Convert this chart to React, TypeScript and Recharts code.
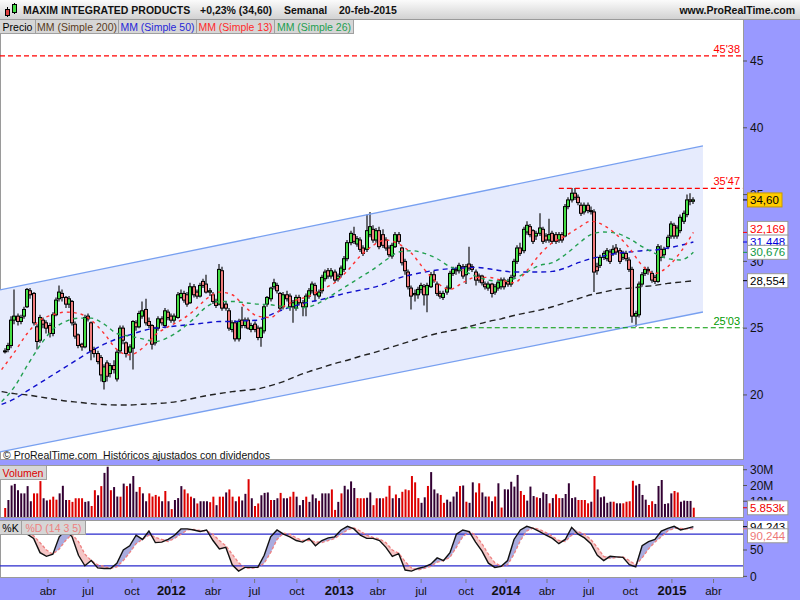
import {
  Area,
  Bar,
  Cell,
  ComposedChart,
  Line,
  ReferenceLine,
  XAxis,
  YAxis,
} from "recharts";

const FONT = "'Liberation Sans', Arial, sans-serif";
const PURPLE = "#9999ff";

// weekly candles, first week of jan-2011 up to 20-feb-2015 (216 weeks)
const opens = [
  23.3, 23.4, 23.7, 25.6, 25.9, 25.5, 25.9, 26.6, 27.8, 27.6,
  25.1, 24.1, 25.6, 25.4, 25.2, 24.6, 26.0, 27.2, 27.6, 27.3,
  26.8, 27.0, 25.3, 24.5, 23.8, 23.6, 25.9, 25.4, 23.4, 23.1,
  22.8, 21.0, 22.4, 21.6, 22.2, 21.2, 23.3, 25.0, 23.9, 23.2,
  23.5, 25.4, 25.1, 25.9, 26.4, 25.5, 25.2, 23.9, 25.0, 25.7,
  25.2, 26.2, 25.9, 25.6, 25.8, 27.3, 27.6, 27.5, 26.9, 28.1,
  27.7, 27.4, 28.5, 28.3, 27.7, 27.5, 27.0, 26.8, 29.3, 26.8,
  26.3, 24.9, 25.4, 24.2, 25.6, 25.2, 25.6, 24.9, 25.3, 25.0,
  24.3, 24.8, 26.8, 27.2, 28.1, 28.2, 27.6, 26.6, 27.5, 27.4,
  26.6, 26.5, 27.3, 26.9, 26.6, 27.4, 27.8, 28.2, 27.4, 27.8,
  28.7, 29.3, 28.9, 29.2, 28.7, 29.0, 29.4, 30.2, 31.4, 32.0,
  31.3, 31.6, 31.0, 30.9, 32.0, 32.4, 31.6, 32.3, 32.0, 31.6,
  31.0, 30.4, 31.1, 32.0, 31.0, 30.0, 29.2, 28.0, 27.5, 27.5,
  27.9, 28.1, 27.5, 28.1, 29.0, 28.3, 27.6, 27.3, 27.7, 28.0,
  29.1, 29.4, 29.3, 29.6, 29.0, 29.8, 29.6, 29.2, 28.9, 28.9,
  28.3, 28.0, 28.3, 27.7, 28.0, 28.1, 28.6, 28.5, 28.3, 28.9,
  30.0, 31.0, 30.8, 32.2, 32.6, 32.3, 31.9, 32.1, 32.4, 31.9,
  31.6, 32.1, 32.0, 31.6, 32.0, 31.9, 34.1, 34.6, 35.1, 34.8,
  34.2, 33.7, 34.2, 33.8, 33.7, 29.6, 29.7, 30.3, 30.2, 30.7,
  30.6, 31.0, 30.8, 30.3, 30.6, 30.1, 29.4, 25.9, 26.0, 28.3,
  29.1, 29.4, 29.1, 28.8, 28.5, 30.9, 30.5, 31.1, 31.9, 32.7,
  31.9, 32.3, 33.0, 33.5, 34.6, 34.5,
];
const highs = [
  23.5, 23.9, 25.9, 27.9, 26.1, 26.0, 26.6, 28.0, 28.0, 27.7,
  25.3, 26.0, 25.8, 25.6, 25.4, 26.2, 27.3, 28.2, 27.9, 27.4,
  27.4, 27.1, 25.5, 24.6, 23.9, 26.0, 26.1, 25.5, 23.6, 23.3,
  23.0, 22.3, 22.6, 22.4, 22.6, 23.4, 25.2, 25.2, 24.0, 23.8,
  25.6, 25.6, 26.3, 27.0, 27.2, 25.8, 25.3, 25.1, 25.9, 25.9,
  26.5, 26.4, 26.1, 26.1, 27.7, 27.9, 27.8, 27.7, 28.4, 28.3,
  27.9, 28.4, 28.7, 29.0, 28.0, 27.7, 27.2, 29.8, 29.6, 27.0,
  26.5, 25.6, 25.6, 25.7, 26.6, 25.8, 25.8, 25.4, 25.5, 25.2,
  25.1, 26.8, 27.4, 28.1, 28.7, 28.4, 27.7, 27.7, 27.8, 27.6,
  27.1, 27.5, 27.5, 27.1, 27.6, 28.0, 28.5, 28.4, 27.9, 29.0,
  29.4, 29.5, 29.5, 29.4, 29.1, 29.7, 30.4, 31.6, 32.3, 32.6,
  31.9, 31.8, 31.2, 33.5, 33.7, 32.7, 32.5, 32.6, 32.4, 31.8,
  31.2, 31.4, 32.2, 32.2, 31.1, 30.2, 29.4, 28.2, 27.9, 28.1,
  28.4, 28.3, 28.4, 29.2, 29.3, 28.5, 27.8, 27.8, 28.2, 29.3,
  29.6, 29.6, 29.9, 29.8, 29.8, 31.1, 29.8, 29.4, 29.1, 29.0,
  28.5, 28.5, 28.4, 28.3, 28.6, 28.8, 28.8, 28.7, 29.0, 30.2,
  31.2, 31.4, 32.6, 33.0, 32.8, 32.4, 32.3, 33.6, 32.6, 32.1,
  33.2, 32.3, 32.2, 32.2, 32.2, 34.3, 34.8, 35.5, 35.5, 35.0,
  34.4, 34.4, 34.4, 34.1, 33.9, 29.9, 30.5, 30.8, 31.0, 30.9,
  31.2, 31.3, 31.0, 30.8, 30.8, 30.3, 29.6, 26.3, 28.5, 29.2,
  29.6, 29.6, 29.3, 29.0, 31.3, 31.2, 31.1, 32.0, 33.0, 32.9,
  32.7, 33.5, 33.8, 35.0, 35.1, 34.8,
];
const lows = [
  23.1, 23.2, 23.5, 25.3, 25.2, 25.3, 25.7, 26.5, 27.2, 25.2,
  23.4, 23.9, 25.0, 24.6, 24.3, 24.4, 25.9, 27.0, 27.0, 26.5,
  26.5, 25.2, 24.2, 23.5, 23.3, 23.5, 25.5, 22.6, 22.8, 22.3,
  21.0, 20.4, 21.0, 21.3, 21.6, 21.0, 23.1, 23.8, 22.8, 22.6,
  21.9, 24.8, 25.0, 25.7, 25.2, 25.0, 23.4, 23.7, 24.8, 25.2,
  25.0, 25.6, 25.4, 25.4, 25.7, 27.2, 26.9, 26.6, 26.8, 27.3,
  27.2, 27.3, 28.0, 27.6, 27.4, 26.8, 26.5, 26.7, 26.3, 26.3,
  24.8, 24.7, 24.0, 24.0, 25.0, 25.0, 24.9, 24.7, 24.7, 24.1,
  23.6, 24.6, 26.6, 27.0, 27.9, 27.6, 26.3, 26.4, 27.0, 26.3,
  25.4, 26.3, 26.7, 25.9, 25.9, 27.2, 27.6, 27.0, 27.2, 27.6,
  28.5, 28.7, 28.7, 28.4, 28.5, 28.8, 29.2, 30.0, 31.2, 31.3,
  31.1, 30.7, 30.4, 30.7, 31.8, 31.4, 31.4, 30.9, 31.0, 30.8,
  30.3, 30.2, 31.0, 31.3, 29.7, 29.0, 27.9, 26.4, 27.0, 27.2,
  27.6, 26.7, 26.2, 28.0, 28.4, 27.4, 27.2, 27.1, 27.5, 27.9,
  28.9, 29.0, 29.1, 28.7, 28.3, 29.3, 29.2, 28.2, 28.4, 28.2,
  27.9, 27.8, 27.3, 27.5, 27.8, 27.9, 27.9, 28.1, 28.1, 28.7,
  29.8, 30.4, 30.6, 32.0, 31.8, 31.3, 31.6, 31.9, 31.3, 31.4,
  31.4, 31.3, 31.3, 31.4, 31.4, 31.8, 33.9, 34.4, 34.6, 34.2,
  33.4, 33.5, 33.6, 33.5, 27.7, 29.0, 29.5, 30.1, 30.0, 29.8,
  30.4, 30.5, 29.8, 30.1, 30.0, 29.2, 25.4, 25.1, 25.8, 28.1,
  28.9, 29.0, 28.4, 28.3, 28.4, 30.0, 30.3, 30.9, 31.7, 31.7,
  31.7, 32.1, 32.8, 33.3, 34.2, 34.3,
];
const closes = [
  23.3, 23.7, 25.6, 25.9, 25.5, 25.8, 26.4, 27.9, 27.5, 25.4,
  24.0, 25.8, 25.3, 25.0, 24.6, 26.0, 27.1, 27.7, 27.3, 26.8,
  27.2, 25.4, 24.4, 23.7, 23.6, 25.8, 25.7, 23.3, 23.1, 22.5,
  21.5, 22.1, 21.4, 22.2, 21.9, 23.2, 25.0, 24.1, 23.1, 23.6,
  25.5, 25.1, 26.1, 26.3, 25.4, 25.2, 23.8, 25.0, 25.7, 25.4,
  26.3, 25.8, 25.6, 25.9, 27.5, 27.6, 27.1, 26.8, 28.1, 27.5,
  27.4, 28.2, 28.2, 27.7, 27.8, 27.0, 26.7, 29.4, 26.5, 26.5,
  25.0, 25.4, 24.2, 25.5, 25.2, 25.6, 25.0, 25.2, 24.9, 24.3,
  25.0, 26.6, 27.3, 28.0, 28.4, 27.8, 26.5, 27.5, 27.2, 26.6,
  26.9, 27.3, 26.9, 26.6, 27.4, 27.8, 28.3, 27.5, 27.7, 28.8,
  29.2, 28.9, 29.3, 28.6, 28.9, 29.5, 30.2, 31.4, 32.1, 31.5,
  31.7, 30.9, 30.6, 32.3, 32.6, 31.6, 32.3, 31.1, 31.2, 31.0,
  30.5, 31.2, 32.0, 31.5, 29.9, 29.3, 28.1, 27.4, 27.6, 27.9,
  28.2, 27.5, 28.2, 29.0, 28.6, 27.6, 27.4, 27.6, 28.0, 29.1,
  29.4, 29.3, 29.7, 28.9, 29.6, 29.5, 29.4, 28.6, 28.6, 28.4,
  28.1, 28.3, 27.6, 28.1, 28.4, 28.6, 28.1, 28.3, 28.8, 30.0,
  31.0, 30.6, 32.4, 32.7, 32.0, 31.5, 32.1, 32.5, 31.5, 31.6,
  32.0, 31.5, 31.5, 32.0, 31.6, 34.1, 34.6, 35.1, 34.8, 34.4,
  33.6, 34.2, 33.8, 33.8, 29.2, 29.3, 30.3, 30.6, 30.8, 30.0,
  30.9, 30.7, 30.0, 30.6, 30.2, 29.4, 25.9, 26.1, 28.3, 29.0,
  29.4, 29.3, 28.6, 28.5, 31.1, 30.3, 30.9, 31.8, 32.8, 31.9,
  32.5, 33.3, 33.6, 34.6, 34.5, 34.6,
];

// weekly volume in millions, colour per bar: r = red, d = dark
const volumes = [
  5.7, 10.8, 20, 21, 17, 15, 15, 19.6, 10, 15,
  15, 22.8, 11.9, 10.5, 11, 12.9, 11, 15, 19.8, 10.8,
  10.8, 9.6, 11.9, 11.9, 11.9, 9.6, 10, 7, 17, 13.8,
  19.6, 28, 31.9, 17, 19, 13, 12.9, 21.2, 19.6, 21.2,
  26, 16, 19, 15, 10, 15, 13, 14, 13, 10,
  16.5, 10, 5, 10.8, 12, 19.6, 17.5, 15, 12.9, 11.9,
  8.6, 10, 10, 10, 9.4, 12.9, 7.5, 12.9, 12.9, 15.6,
  17.5, 12.9, 10, 13, 10.5, 14.7, 24, 11.9, 7, 8.6,
  13.8, 15.3, 15.6, 10.8, 10.8, 11.9, 15.3, 11.9, 11.9, 12.9,
  16, 12.9, 7.5, 10.8, 12.9, 9.6, 14.3, 11.9, 10.3, 15,
  15, 15, 17.5, 4.5, 9.6, 15, 19.8, 17.5, 22.6, 18.4,
  12, 11.9, 11.9, 12.2, 15.6, 7.5, 11.9, 11.9, 11.9, 12.9,
  19.8, 11.9, 14.3, 12, 16, 17.5, 17, 26, 22, 12,
  9, 12.5, 19.7, 28.5, 17.5, 15, 14, 9, 11, 9.7,
  13, 16, 19.7, 20, 9.7, 9, 22, 15.6, 21.4, 15.6,
  13, 13, 10, 13, 21.4, 6, 17.6, 17.5, 22.4, 19.3,
  26.7, 16.5, 14, 10.4, 19.3, 13.3, 12.5, 12, 15.6, 14.6,
  8.7, 12, 14.4, 12, 12, 14.6, 21.4, 12, 12.5, 10.8,
  10.8, 10.8, 8.7, 9.7, 26, 17.5, 12.5, 13, 9, 9.7,
  9.7, 8.7, 8.7, 8.7, 9.7, 10, 23, 20, 21, 14,
  11, 7.6, 10, 8.3, 19.7, 23.5, 8.3, 8.7, 15, 16.5,
  15.6, 9.7, 10.4, 10.2, 10.2, 5.9,
];
const volumeColors =
  "rddddddddr" + "rrddrrrddd" + "rrrrrddrrd" + "rddrddrdrd" + "ddrddrrrrd" +
  "rdrdddrrrd" + "rdddrrdrrd" + "rrdrddrdrr" + "dddrddrddr" + "rdddrdddrd" +
  "ddrrdrdddd" + "rrrddrrdrr" + "rdrdrrrrrr" + "ddrdddrrdd" + "ddrdrddrrd" +
  "drdrdrdddd" + "drrdddrddd" + "rdrrdddddr" + "rrrdrddddd" + "rddrrrrddd" +
  "drrddddddr" + "rddddr";

// moving averages, read every 4th week starting at week -1
const MA_FIRST = -1;
const MA_STEP = 4;
const sma200 = [
  20.25, 20.1, 20.0, 19.85, 19.7, 19.55, 19.45, 19.35, 19.28, 19.25, 19.25,
  19.3, 19.35, 19.42, 19.55, 19.75, 19.95, 20.1, 20.25, 20.35, 20.45,
  20.7, 21.0, 21.4, 21.75, 22.05, 22.35, 22.6, 22.9, 23.15, 23.45,
  23.75, 24.05, 24.35, 24.6, 24.8, 25.0, 25.25, 25.5, 25.7, 25.95,
  26.15, 26.35, 26.6, 26.9, 27.2, 27.5, 27.7, 27.9, 28.0, 28.1,
  28.2, 28.35, 28.45, 28.55,
];
const sma50 = [
  19.3, 19.7, 20.3, 20.9, 21.5, 22.1, 22.7, 23.3, 23.8, 24.2, 24.5,
  24.8, 25.0, 25.1, 25.2, 25.3, 25.4, 25.5, 25.5, 25.55, 25.6,
  26.0, 26.4, 26.7, 26.95, 27.15, 27.4, 27.65, 27.85, 28.05, 28.35,
  28.75, 29.0, 29.2, 29.35, 29.45, 29.5, 29.55, 29.45, 29.3, 29.2,
  29.2, 29.2, 29.25, 29.5, 29.9, 30.2, 30.4, 30.6, 30.7, 30.8,
  30.85, 31.0, 31.2, 31.448,
];
const sma13 = [
  21.9, 23.2, 24.6, 25.6, 26.0, 26.2, 26.1, 25.6, 24.6, 23.4, 23.0,
  23.5, 24.5, 25.1, 25.6, 26.3, 27.2, 27.7, 27.5, 26.6, 25.9,
  25.8, 26.6, 27.1, 27.4, 27.9, 28.4, 29.3, 30.4, 31.2, 31.6,
  31.3, 30.6, 29.4, 28.4, 27.9, 28.4, 28.8, 28.8, 28.6, 28.4,
  29.3, 30.5, 31.4, 31.9, 32.5, 33.0, 32.7, 32.0, 31.0, 29.7,
  29.1, 29.6, 30.7, 32.169,
];
const sma26 = [
  19.5, 20.6, 22.2, 23.7, 24.9, 25.5, 25.75, 25.75, 25.3, 24.6, 24.4,
  24.2, 24.0, 24.3, 24.9, 25.7, 26.6, 27.0, 27.0, 26.9, 26.8,
  26.75, 26.6, 26.5, 26.6, 27.0, 27.6, 28.2, 28.8, 29.4, 30.1,
  30.7, 30.8, 30.6, 30.2, 29.6, 29.3, 28.9, 28.6, 28.5, 28.7,
  29.2, 29.7, 29.9, 30.5, 31.3, 32.0, 32.2, 32.1, 31.7, 31.1,
  30.6, 30.2, 30.1, 30.676,
];

// stochastic %K / %D (14 3 5), read every 2nd week starting at week 1
const ST_FIRST = 1;
const ST_STEP = 2;
const stochK = [
  88, 87, 80, 80, 72, 45, 38, 42, 75, 88,
  75, 40, 20, 30, 16, 15, 15, 25, 50, 58,
  78, 70, 86, 64, 65, 70, 78, 90, 90, 88,
  85, 88, 68, 52, 55, 22, 10, 17, 17, 17,
  40, 75, 88, 80, 75, 68, 65, 72, 58, 68,
  73, 75, 88, 95, 90, 78, 72, 72, 68, 55,
  38, 43, 12, 10, 15, 18, 23, 35, 30, 45,
  80, 88, 85, 65, 48, 25, 17, 19, 30, 70,
  88, 95, 91, 85, 78, 72, 62, 70, 93, 80,
  73, 62, 40, 30, 38, 37, 36, 22, 18, 58,
  66, 70, 86, 91, 95, 88, 91, 94.243,
];
const stochD = [
  86, 87, 85, 82, 77, 64, 50, 42, 52, 68,
  80, 66, 42, 30, 22, 19, 15, 18, 30, 45,
  62, 70, 78, 74, 70, 66, 72, 80, 88, 89,
  87, 86, 80, 68, 58, 42, 26, 16, 15, 17,
  25, 45, 70, 82, 80, 73, 68, 68, 65, 64,
  68, 72, 80, 88, 92, 86, 78, 74, 71, 64,
  50, 44, 28, 16, 12, 15, 19, 27, 30, 36,
  55, 75, 85, 78, 62, 42, 26, 19, 22, 42,
  68, 86, 92, 89, 83, 76, 68, 66, 78, 85,
  80, 70, 55, 38, 34, 36, 37, 30, 22, 35,
  52, 65, 75, 86, 91, 91, 90, 90.244,
];

// trend channel end points
const channelWeeks = [-1.5, 218];
const channelUpper = [27.86, 38.64];
const channelLower = [15.73, 26.21];

// horizontal levels
const levelValues = [45.38, 35.47, 25.03];
const levelLabels = ["45'38", "35'47", "25'03"];
const levelStarts = [-1.5, 173, 143];
const levelColors = ["#ff0000", "#ff0000", "#009900"];

// axis ticks
const priceTicks = [20, 25, 30, 35, 40, 45];
const priceTagValues = [34.6, 32.169, 31.448, 30.676, 28.554];
const priceTagLabels = ["34,60", "32,169", "31,448", "30,676", "28,554"];
const volumeTicks = [10, 20, 30];
const volumeTagValues = [5.853];
const volumeTagLabels = ["5.853k"];
const stochTicks = [0, 50];
const stochTagValues = [94.243, 90.244];
const stochTagLabels = ["94,243", "90,244"];
const monthTicks = [13.5, 26, 39.7, 52, 65, 78, 91.2, 104.4, 116.5, 130, 144, 156.5, 169.3, 182.3, 195.3, 208.3, 221.3];
const monthLabels = ["abr", "jul", "oct", "2012", "abr", "jul", "oct", "2013", "abr", "jul", "oct", "2014", "abr", "jul", "oct", "2015", "abr"];

const WEEK_DOMAIN: [number, number] = [-1.5, 230.5];
const PRICE_DOMAIN: [number, number] = [15.13, 48.07];
const VOLUME_DOMAIN: [number, number] = [0, 33];
const STOCH_DOMAIN: [number, number] = [-5, 105];

const PRICE_TAG_STYLE = [
  { color: "#000", bg: "#ffcc00", border: "#c89a00", dy: 0 },
  { color: "#ff0000", bg: "#fff", border: "#999", dy: -4 },
  { color: "#0000dd", bg: "#fff", border: "#999", dy: 0 },
  { color: "#119944", bg: "#fff", border: "#999", dy: 0 },
  { color: "#000", bg: "#fff", border: "#999", dy: 0 },
];
const STOCH_TAG_STYLE = [
  { color: "#000", bg: "#fff", border: "#999", dy: 0 },
  { color: "#ee7777", bg: "#fff", border: "#999", dy: 7 },
];

type Row = { week: number; [key: string]: any };

function buildPriceData(): Row[] {
  const byWeek = new Map<number, Row>();
  const row = (w: number) => {
    if (!byWeek.has(w)) byWeek.set(w, { week: w });
    return byWeek.get(w)!;
  };
  closes.forEach((close, i) => {
    Object.assign(row(i), { open: opens[i], high: highs[i], low: lows[i], close });
  });
  const mas: [string, number[]][] = [
    ["sma200", sma200],
    ["sma50", sma50],
    ["sma13", sma13],
    ["sma26", sma26],
  ];
  mas.forEach(([key, values]) => {
    values.forEach((v, k) => {
      row(MA_FIRST + k * MA_STEP)[key] = v;
    });
  });
  channelWeeks.forEach((w, j) => {
    Object.assign(row(w), {
      chUp: channelUpper[j],
      chLo: channelLower[j],
      chBand: [channelLower[j], channelUpper[j]],
    });
  });
  return [...byWeek.values()].sort((a, b) => a.week - b.week);
}

const priceData = buildPriceData();
const volumeData = volumes.map((vol, i) => ({ week: i, vol }));
const stochData = stochK.map((k, j) => {
  const d = stochD[j];
  return {
    week: ST_FIRST + j * ST_STEP,
    k,
    d,
    up: k >= d ? [d, k] : [d, d],
    dn: k < d ? [k, d] : [k, k],
  };
});

function Candle(props: any) {
  const { x, y, width, height, payload } = props;
  if (!payload || payload.open == null) return null;
  const { open, high, low, close } = payload;
  const top = Math.min(y, y + height);
  const span = Math.abs(height);
  const ppu = high > low ? span / (high - low) : 0;
  const cx = Math.round(x + width / 2);
  const bodyTop = top + (high - Math.max(open, close)) * ppu;
  const bodyBottom = top + (high - Math.min(open, close)) * ppu;
  return (
    <g>
      <line x1={cx} x2={cx} y1={top} y2={top + span} stroke="#000" strokeWidth={1.1} />
      <rect
        x={cx - 1.5}
        y={bodyTop}
        width={3}
        height={Math.max(bodyBottom - bodyTop, 1)}
        fill={close >= open ? "#44dd44" : "#f07c7c"}
        stroke="#000"
        strokeWidth={1}
      />
    </g>
  );
}

function tagBox(x: number, y: number, text: string, color: string, bg: string, border: string) {
  const w = text.length * 5.9 + 5;
  return (
    <g>
      <rect x={x - 2.5} y={y - 7} width={w} height={14} fill={bg} stroke={border} />
      <text x={x} y={y} dy="0.36em" fontSize={11.5} fill={color} fontFamily={FONT}>
        {text}
      </text>
    </g>
  );
}

function makeTick(
  tagValues: number[],
  tagLabels: string[],
  tagStyles: { color: string; bg: string; border: string; dy: number }[],
  format: (v: number) => string,
) {
  return (props: any) => {
    const { x, y, payload } = props;
    const v = payload.value;
    const idx = tagValues.indexOf(v);
    if (idx >= 0) {
      const s = tagStyles[idx];
      return (
        <g>
          <line x1={x - 7} x2={x - 3} y1={y} y2={y} stroke={s.color} />
          {tagBox(x, y + s.dy, tagLabels[idx], s.color, s.bg, s.border)}
        </g>
      );
    }
    return (
      <g>
        <line x1={x - 7} x2={x - 3} y1={y} y2={y} stroke="#555" />
        <text x={x} y={y} dy="0.36em" fontSize={12} fill="#111" fontFamily={FONT}>
          {format(v)}
        </text>
      </g>
    );
  };
}

const PriceTick = makeTick(priceTagValues, priceTagLabels, PRICE_TAG_STYLE, (v) => String(v));
const VolumeTick = makeTick(
  volumeTagValues,
  volumeTagLabels,
  [{ color: "#ee0000", bg: "#fff", border: "#999", dy: 0 }],
  (v) => `${v}M`,
);
const StochTick = makeTick(stochTagValues, stochTagLabels, STOCH_TAG_STYLE, (v) => String(v));

function MonthTick(props: any) {
  const { x, y, payload } = props;
  const label = monthLabels[monthTicks.indexOf(payload.value)];
  const isYear = /^\d/.test(label ?? "");
  return (
    <g>
      <line x1={x} x2={x} y1={y} y2={y + 4} stroke="#777" />
      <text
        x={x}
        y={y + 16}
        textAnchor="middle"
        fontSize={isYear ? 13 : 11.5}
        fontWeight={isYear ? "bold" : "normal"}
        fill="#111"
        fontFamily={FONT}
      >
        {label}
      </text>
    </g>
  );
}

const abs = (left: number, top: number, width: number, height: number): React.CSSProperties => ({
  position: "absolute",
  left,
  top,
  width,
  height,
});

const tagStyle: React.CSSProperties = {
  position: "absolute",
  height: 14,
  lineHeight: "14px",
  fontSize: 10.5,
  background: "#d6d6d6",
  borderRight: "1px solid #a0a0a0",
  borderBottom: "1px solid #a0a0a0",
  boxSizing: "border-box",
  textAlign: "center",
  whiteSpace: "nowrap",
  overflow: "hidden",
};

const legend = [
  { text: "Precio", color: "#000", width: 36 },
  { text: "MM (Simple 200)", color: "#5a3b1c", width: 83 },
  { text: "MM (Simple 50)", color: "#2626d8", width: 78 },
  { text: "MM (Simple 13)", color: "#ff2a2a", width: 78 },
  { text: "MM (Simple 26)", color: "#1e9e50", width: 79 },
];

const headerText: React.CSSProperties = {
  position: "absolute",
  top: 4,
  fontSize: 10.5,
  fontWeight: "bold",
  whiteSpace: "nowrap",
};

export default function App() {
  let lx = 0;
  return (
    <div
      style={{
        ...abs(0, 0, 800, 600),
        background: PURPLE,
        overflow: "hidden",
        fontFamily: FONT,
        color: "#111",
      }}
    >
      <style>{".ovf svg.recharts-surface { overflow: visible; }"}</style>
      {/* header */}
      <div
        style={{
          ...abs(0, 0, 800, 20),
          background: "linear-gradient(#fbfbfb, #d2d2d2)",
          borderBottom: "1px solid #9a9a9a",
          boxSizing: "border-box",
        }}
      >
        <svg style={{ position: "absolute", left: 3, top: 3 }} width={16} height={15}>
          <line x1={4.5} x2={4.5} y1={4} y2={14} stroke="#000" />
          <rect x={2.5} y={6.5} width={4} height={6} fill="#e04040" stroke="#000" />
          <line x1={11.5} x2={11.5} y1={0} y2={11} stroke="#000" />
          <rect x={9.5} y={1.5} width={4} height={8} fill="#44dd44" stroke="#000" />
        </svg>
        <div style={{ ...headerText, left: 23 }}>MAXIM INTEGRATED PRODUCTS</div>
        <div style={{ ...headerText, left: 200 }}>+0,23% (34,60)</div>
        <div style={{ ...headerText, left: 284 }}>Semanal</div>
        <div style={{ ...headerText, left: 339 }}>20-feb-2015</div>
        <div style={{ ...headerText, right: 5 }}>www.ProRealTime.com</div>
      </div>

      {/* panel backgrounds */}
      <div style={{ ...abs(0, 20, 744, 440), background: "#fff", border: "1px solid #9a9a9a", borderTop: "none", boxSizing: "border-box" }} />
      <div style={{ ...abs(0, 465, 744, 53), background: "#fff", border: "1px solid #9a9a9a", boxSizing: "border-box" }} />
      <div style={{ ...abs(0, 520, 744, 58), background: "#fff", border: "1px solid #9a9a9a", boxSizing: "border-box" }} />

      {/* price panel */}
      <div style={abs(0, 20, 800, 440)}>
        <ComposedChart width={800} height={440} data={priceData} margin={{ top: 0, right: 0, bottom: 0, left: 0 }}>
          <XAxis dataKey="week" type="number" domain={WEEK_DOMAIN} allowDataOverflow hide />
          <YAxis
            orientation="right"
            width={57}
            type="number"
            domain={PRICE_DOMAIN}
            allowDataOverflow
            ticks={[...priceTicks, ...priceTagValues]}
            interval={0}
            tickSize={4}
            tickMargin={3}
            tickLine={false}
            axisLine={false}
            tick={PriceTick}
          />
          <Area
            dataKey="chBand"
            type="linear"
            fill="#e6ebfd"
            fillOpacity={1}
            stroke="none"
            connectNulls
            isAnimationActive={false}
          />
          <Line dataKey="chUp" type="linear" stroke="#78a0f0" strokeWidth={1.3} dot={false} connectNulls isAnimationActive={false} />
          <Line dataKey="chLo" type="linear" stroke="#78a0f0" strokeWidth={1.3} dot={false} connectNulls isAnimationActive={false} />
          {levelValues.map((v, j) => (
            <ReferenceLine
              key={v}
              segment={[
                { x: levelStarts[j], y: v },
                { x: WEEK_DOMAIN[1], y: v },
              ]}
              stroke={levelColors[j]}
              strokeDasharray="5 3"
              strokeWidth={1.2}
              label={{ value: levelLabels[j], position: "insideBottomRight", fill: levelColors[j], fontSize: 11, fontFamily: FONT, offset: 3 }}
            />
          ))}
          <Bar
            dataKey={(d: Row) => (d.high == null ? null : [d.low, d.high])}
            barSize={3}
            shape={Candle}
            isAnimationActive={false}
          />
          <Line dataKey="sma200" type="monotone" stroke="#222" strokeWidth={1.4} strokeDasharray="6 4" dot={false} connectNulls isAnimationActive={false} />
          <Line dataKey="sma50" type="monotone" stroke="#1010cc" strokeWidth={1.4} strokeDasharray="5 4" dot={false} connectNulls isAnimationActive={false} />
          <Line dataKey="sma26" type="monotone" stroke="#22a050" strokeWidth={1.4} strokeDasharray="4 4" dot={false} connectNulls isAnimationActive={false} />
          <Line dataKey="sma13" type="monotone" stroke="#ff3030" strokeWidth={1.4} strokeDasharray="3 4" dot={false} connectNulls isAnimationActive={false} />
        </ComposedChart>
      </div>

      {/* legend row */}
      {legend.map((l) => {
        const left = lx;
        lx += l.width;
        return (
          <div key={l.text} style={{ ...tagStyle, left, top: 20, width: l.width, color: l.color }}>
            {l.text}
          </div>
        );
      })}
      <div style={{ position: "absolute", left: 3, top: 449, fontSize: 10.5, whiteSpace: "nowrap" }}>
        © ProRealTime.com&nbsp; Históricos ajustados con dividendos
      </div>

      {/* volume panel */}
      <div className="ovf" style={abs(0, 465, 800, 52)}>
        <ComposedChart width={800} height={52} data={volumeData} margin={{ top: 0, right: 0, bottom: 0, left: 0 }}>
          <XAxis dataKey="week" type="number" domain={WEEK_DOMAIN} allowDataOverflow hide />
          <YAxis
            orientation="right"
            width={57}
            type="number"
            domain={VOLUME_DOMAIN}
            allowDataOverflow
            ticks={[...volumeTicks, ...volumeTagValues]}
            interval={0}
            tickSize={4}
            tickMargin={3}
            tickLine={false}
            axisLine={false}
            tick={VolumeTick}
          />
          <Bar dataKey="vol" barSize={2} isAnimationActive={false}>
            {volumeData.map((d, i) => (
              <Cell key={d.week} fill={volumeColors[i] === "r" ? "#dd0000" : "#330033"} />
            ))}
          </Bar>
        </ComposedChart>
      </div>
      <div style={{ ...tagStyle, left: 0, top: 466, width: 47, color: "#dd0000" }}>Volumen</div>

      {/* stochastic panel */}
      <div style={abs(0, 521, 800, 79)}>
        <ComposedChart width={800} height={79} data={stochData} margin={{ top: 0, right: 0, bottom: 0, left: 0 }}>
          <XAxis
            dataKey="week"
            type="number"
            domain={WEEK_DOMAIN}
            allowDataOverflow
            height={21}
            ticks={monthTicks}
            interval={0}
            tickSize={0}
            tickMargin={0}
            tickLine={false}
            axisLine={false}
            tick={MonthTick}
          />
          <YAxis
            orientation="right"
            width={57}
            type="number"
            domain={STOCH_DOMAIN}
            allowDataOverflow
            ticks={[...stochTicks, ...stochTagValues]}
            interval={0}
            tickSize={4}
            tickMargin={3}
            tickLine={false}
            axisLine={false}
            tick={StochTick}
          />
          <ReferenceLine y={80} stroke="#2a2acc" strokeWidth={1.2} />
          <ReferenceLine y={20} stroke="#2a2acc" strokeWidth={1.2} />
          <Area dataKey="up" type="linear" fill="#a9acdf" fillOpacity={1} stroke="none" isAnimationActive={false} />
          <Area dataKey="dn" type="linear" fill="#f5c6c6" fillOpacity={1} stroke="none" isAnimationActive={false} />
          <Line dataKey="d" type="linear" stroke="#ee8080" strokeWidth={1.3} strokeDasharray="3 2" dot={false} isAnimationActive={false} />
          <Line dataKey="k" type="linear" stroke="#111" strokeWidth={1.4} dot={false} isAnimationActive={false} />
        </ComposedChart>
      </div>
      <div style={{ ...tagStyle, left: 0, top: 521, width: 22, color: "#000" }}>%K</div>
      <div style={{ ...tagStyle, left: 22, top: 521, width: 64, color: "#ee8080" }}>%D (14 3 5)</div>
    </div>
  );
}
